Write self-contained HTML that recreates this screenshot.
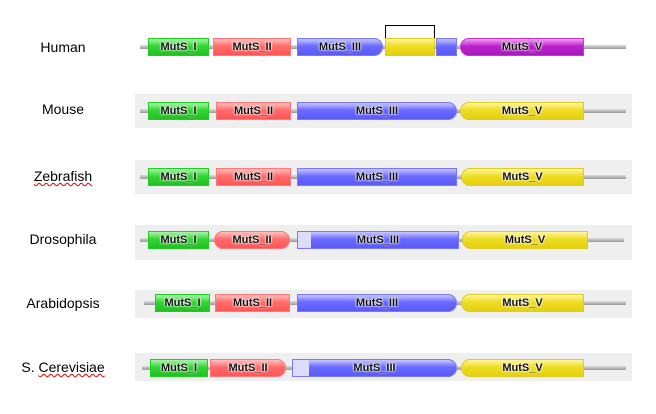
<!DOCTYPE html>
<html><head><meta charset="utf-8"><style>
body{margin:0;width:656px;height:414px;background:#fff;position:relative;overflow:hidden;font-family:"Liberation Sans",sans-serif}
.lab{position:absolute;font-size:14px;color:#000;width:130px;text-align:center;left:-2px}
.pan{position:absolute;left:135px;width:497px;background:#efefef}
.ln{position:absolute;height:4px;background:linear-gradient(#ddd,#999);}
.d{position:absolute;height:18px;box-sizing:border-box;font-size:11px;font-weight:bold;text-align:center;line-height:17px;color:#111;text-shadow:0 0 2px #fff,0 0 2px #fff,0 0 1px #fff}
.g{background:linear-gradient(#a8f5a8,#33d633 45%,#22c022);border:1px solid #2c2}
.r{background:linear-gradient(#ffc0c0,#ff6b6b 45%,#f55);border:1px solid #f77}
.b{background:linear-gradient(#c8c8ff,#6a6aff 45%,#5a5af5);border:1px solid #77f}
.y{background:linear-gradient(#fff5a0,#eedd22 45%,#e5d010);border:1px solid #dc2}
.p{background:linear-gradient(#f0a0f5,#bb22cc 45%,#a818bb);border:1px solid #c3c}
.rr{border-radius:0 9px 9px 0}.rl{border-radius:9px 0 0 9px}.ra{border-radius:9px}
.u{text-decoration:underline wavy #d00;text-decoration-thickness:1px}
</style></head><body>
<div class="pan" style="top:94px;height:34px"></div>
<div class="pan" style="top:160px;height:34px"></div>
<div class="pan" style="top:225px;height:35px"></div>
<div class="pan" style="top:290px;height:28px"></div>
<div class="pan" style="top:353px;height:28px"></div>

<div class="lab" style="top:39px">Human</div>
<div class="lab" style="top:101px">Mouse</div>
<div class="lab" style="top:168px"><span class="u">Zebrafish</span></div>
<div class="lab" style="top:231px">Drosophila</div>
<div class="lab" style="top:295px">Arabidopsis</div>
<div class="lab" style="top:359px">S. <span class="u">Cerevisiae</span></div>

<!-- Human -->
<div class="ln" style="left:140px;width:486px;top:45px"></div>
<div style="position:absolute;left:385px;top:25px;width:48px;height:13px;border:1px solid #000;border-bottom:none"></div>
<div class="d g" style="left:148px;width:61px;top:38px">MutS_I</div>
<div class="d r" style="left:213px;width:78px;top:38px">MutS_II</div>
<div class="d b rr" style="left:297px;width:86px;top:38px">MutS_III</div>
<div class="d y" style="left:385px;width:50px;top:38px"></div>
<div class="d b" style="left:436px;width:21px;top:38px"></div>
<div class="d p rl" style="left:460px;width:124px;top:38px">MutS_V</div>

<!-- Mouse -->
<div class="ln" style="left:140px;width:486px;top:109px"></div>
<div class="d g" style="left:148px;width:61px;top:102px">MutS_I</div>
<div class="d r" style="left:216px;width:75px;top:102px">MutS_II</div>
<div class="d b rr" style="left:297px;width:160px;top:102px">MutS_III</div>
<div class="d y rl" style="left:460px;width:124px;top:102px">MutS_V</div>

<!-- Zebrafish -->
<div class="ln" style="left:140px;width:486px;top:175px"></div>
<div class="d g" style="left:148px;width:61px;top:168px">MutS_I</div>
<div class="d r" style="left:216px;width:75px;top:168px">MutS_II</div>
<div class="d b" style="left:297px;width:160px;top:168px">MutS_III</div>
<div class="d y rl" style="left:461px;width:123px;top:168px">MutS_V</div>

<!-- Drosophila -->
<div class="ln" style="left:140px;width:484px;top:238px"></div>
<div class="d g" style="left:148px;width:61px;top:231px">MutS_I</div>
<div class="d r ra" style="left:214px;width:76px;top:231px">MutS_II</div>
<div class="d b" style="left:297px;width:162px;top:231px;background:linear-gradient(90deg,#dcdcff 0 13px,transparent 13px),linear-gradient(#c8c8ff,#6a6aff 45%,#5a5af5)">MutS_III</div>
<div class="d y rl" style="left:462px;width:126px;top:231px">MutS_V</div>

<!-- Arabidopsis -->
<div class="ln" style="left:144px;width:482px;top:301px"></div>
<div class="d g" style="left:155px;width:55px;top:294px">MutS_I</div>
<div class="d r" style="left:215px;width:75px;top:294px">MutS_II</div>
<div class="d b rr" style="left:297px;width:160px;top:294px">MutS_III</div>
<div class="d y rl" style="left:461px;width:123px;top:294px">MutS_V</div>

<!-- S. Cerevisiae -->
<div class="ln" style="left:142px;width:484px;top:366px"></div>
<div class="d g" style="left:150px;width:58px;top:359px">MutS_I</div>
<div class="d r rr" style="left:210px;width:76px;top:359px">MutS_II</div>
<div class="d b rr" style="left:292px;width:165px;top:359px;background:linear-gradient(90deg,#dcdcff 0 16px,transparent 16px),linear-gradient(#c8c8ff,#6a6aff 45%,#5a5af5)">MutS_III</div>
<div class="d y rl" style="left:461px;width:123px;top:359px">MutS_V</div>
</body></html>
